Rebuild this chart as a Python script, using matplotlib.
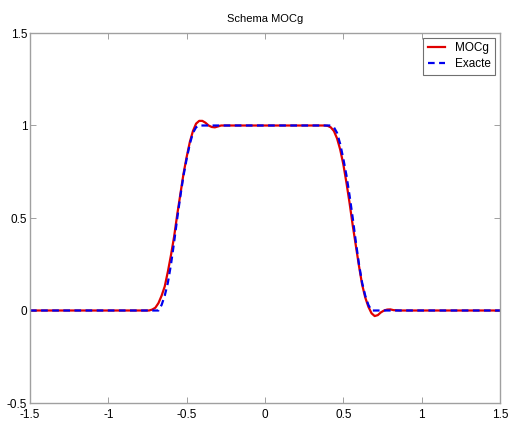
import matplotlib
matplotlib.use('Agg')
import matplotlib.pyplot as plt

plt.rcParams['font.family'] = ['Liberation Sans', 'DejaVu Sans']

# solution exacte
x_exact = [-1.5, -0.68, -0.66, -0.64, -0.62, -0.60, -0.58, -0.56, -0.54, -0.52,
           -0.50, -0.48, -0.46, -0.44, -0.42, 0.42, 0.44, 0.46, 0.48, 0.50,
           0.52, 0.54, 0.56, 0.58, 0.60, 0.62, 0.64, 0.66, 0.68, 1.5]
y_exact = [0, 0, 0.03, 0.08, 0.15, 0.25, 0.37, 0.50, 0.62, 0.73,
           0.82, 0.90, 0.96, 0.99, 1.0, 1.0, 0.99, 0.96, 0.90, 0.82,
           0.73, 0.62, 0.50, 0.37, 0.25, 0.15, 0.08, 0.03, 0, 0]

# schema MOCg
x_mocg = [-1.5, -0.74, -0.72, -0.70, -0.68, -0.66, -0.64, -0.62, -0.60, -0.58,
          -0.56, -0.54, -0.52, -0.50, -0.48, -0.46, -0.44, -0.42, -0.40, -0.38,
          -0.36, -0.34, -0.32, -0.30, -0.28, -0.26, 0.38, 0.40, 0.42, 0.44,
          0.46, 0.48, 0.50, 0.52, 0.54, 0.56, 0.58, 0.60, 0.62, 0.64,
          0.66, 0.68, 0.70, 0.72, 0.74, 0.76, 0.78, 0.80, 0.82, 0.86, 1.5]
y_mocg = [0, 0, 0.005, 0.015, 0.04, 0.08, 0.13, 0.21, 0.30, 0.40,
          0.52, 0.63, 0.74, 0.83, 0.91, 0.97, 1.01, 1.025, 1.025, 1.015,
          1.0, 0.992, 0.99, 0.995, 1.0, 1.0, 1.0, 0.998, 0.99, 0.97,
          0.93, 0.87, 0.79, 0.69, 0.58, 0.46, 0.35, 0.24, 0.14, 0.07,
          0.02, -0.015, -0.03, -0.025, -0.01, 0.0, 0.005, 0.006, 0.002, 0, 0]

fig = plt.figure(figsize=(5.08, 4.23), dpi=100)
ax = fig.add_axes([30 / 508, 1 - 403 / 423, 470 / 508, 370 / 423])

ax.plot(x_mocg, y_mocg, color='#e00000', lw=1.6, label='MOCg')
ax.plot(x_exact, y_exact, color='#0000ee', lw=1.6, ls='--', dashes=(3, 2),
        label='Exacte')

ax.set_xlim(-1.5, 1.5)
ax.set_ylim(-0.5, 1.5)
ax.set_xticks([-1.5, -1, -0.5, 0, 0.5, 1, 1.5])
ax.set_xticklabels(['-1.5', '-1', '-0.5', '0', '0.5', '1', '1.5'])
ax.set_yticks([-0.5, 0, 0.5, 1, 1.5])
ax.set_yticklabels(['-0.5', '0', '0.5', '1', '1.5'])
ax.tick_params(direction='in', length=4, width=0.6, color='#909090',
               top=True, right=True, labelsize=8.5, pad=2)
ax.tick_params(axis='x', pad=4)
for s in ax.spines.values():
    s.set_color('#a0a0a0')
    s.set_linewidth(1.0)

ax.set_title('Schema MOCg', fontsize=8, pad=8)

leg = ax.legend(loc='upper right', fontsize=8.5, fancybox=False, framealpha=1,
                edgecolor='#707070', handlelength=1.5, borderaxespad=0.4,
                handletextpad=0.8, labelspacing=0.3)
leg.get_frame().set_linewidth(0.8)

fig.savefig('out.png', dpi=100)
